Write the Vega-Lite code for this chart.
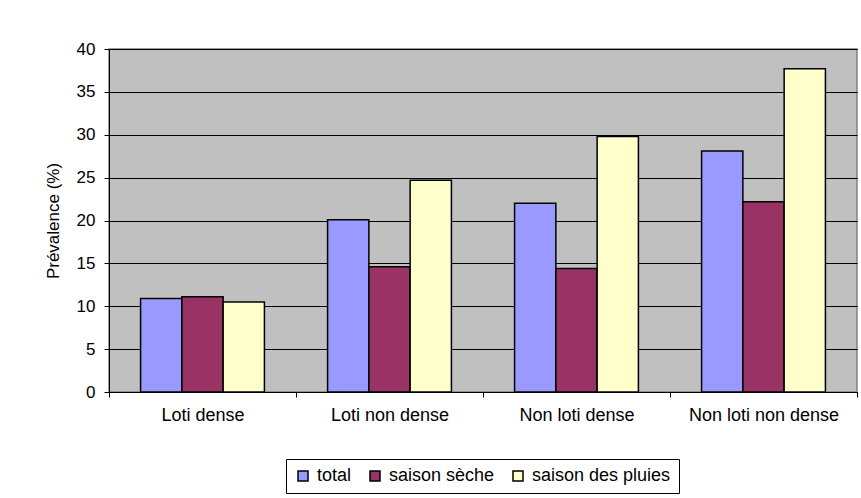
{
  "$schema": "https://vega.github.io/schema/vega-lite/v6.json",
  "autosize": {"type": "none"},
  "width": 748,
  "height": 343,
  "padding": {"left": 109, "top": 49, "right": 4, "bottom": 106},
  "background": "white",
  "data": {
    "values": [
      {"zone": "Loti dense", "serie": "total", "valeur": 10.9},
      {"zone": "Loti dense", "serie": "saison sèche", "valeur": 11.1},
      {"zone": "Loti dense", "serie": "saison des pluies", "valeur": 10.5},
      {"zone": "Loti non dense", "serie": "total", "valeur": 20.1},
      {"zone": "Loti non dense", "serie": "saison sèche", "valeur": 14.6},
      {"zone": "Loti non dense", "serie": "saison des pluies", "valeur": 24.7},
      {"zone": "Non loti dense", "serie": "total", "valeur": 22.0},
      {"zone": "Non loti dense", "serie": "saison sèche", "valeur": 14.4},
      {"zone": "Non loti dense", "serie": "saison des pluies", "valeur": 29.8},
      {"zone": "Non loti non dense", "serie": "total", "valeur": 28.1},
      {"zone": "Non loti non dense", "serie": "saison sèche", "valeur": 22.2},
      {"zone": "Non loti non dense", "serie": "saison des pluies", "valeur": 37.7}
    ]
  },
  "mark": {"type": "bar", "stroke": "black", "strokeWidth": 1.5},
  "encoding": {
    "x": {
      "field": "zone", "type": "nominal",
      "sort": ["Loti dense", "Loti non dense", "Non loti dense", "Non loti non dense"],
      "scale": {"paddingInner": 0, "paddingOuter": 0},
      "axis": {
        "title": null, "labelAngle": 0, "tickBand": "extent",
        "domainColor": "black", "tickColor": "black", "tickSize": 5,
        "labelPadding": 9, "labelFontSize": 18, "labelColor": "black",
        "labelFont": "Liberation Sans"
      }
    },
    "xOffset": {
      "field": "serie", "type": "nominal",
      "sort": ["total", "saison sèche", "saison des pluies"],
      "scale": {"paddingInner": 0, "paddingOuter": 0.765}
    },
    "y": {
      "field": "valeur", "type": "quantitative",
      "scale": {"domain": [0, 40], "nice": false},
      "axis": {
        "title": "Prévalence (%)", "values": [0, 5, 10, 15, 20, 25, 30, 35, 40],
        "grid": true, "gridColor": "black", "gridOpacity": 1, "gridWidth": 1,
        "domainColor": "black", "tickColor": "black", "tickSize": 5,
        "labelFontSize": 17, "labelColor": "black", "labelFont": "Liberation Sans",
        "labelPadding": 9,
        "titleFontSize": 17, "titleFont": "Liberation Sans", "titleFontWeight": "normal",
        "titleColor": "black", "titlePadding": 14
      }
    },
    "color": {
      "field": "serie", "type": "nominal",
      "scale": {
        "domain": ["total", "saison sèche", "saison des pluies"],
        "range": ["#9999FF", "#993366", "#FFFFCC"]
      },
      "legend": {
        "title": null, "orient": "none", "direction": "horizontal",
        "legendX": 177, "legendY": 410,
        "strokeColor": "black", "fillColor": "white", "padding": 8,
        "symbolType": "square", "symbolSize": 100, "symbolStrokeColor": "black",
        "symbolStrokeWidth": 1.5, "symbolOpacity": 1,
        "labelFontSize": 18, "labelFont": "Liberation Sans", "labelColor": "black",
        "labelOffset": 5, "columnPadding": 14
      }
    }
  },
  "config": {
    "view": {"fill": "#C0C0C0", "stroke": "#808080", "strokeWidth": 1.5}
  }
}
